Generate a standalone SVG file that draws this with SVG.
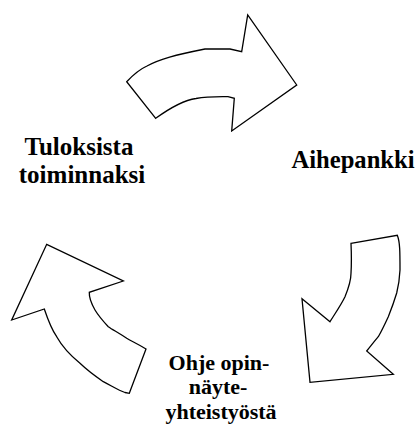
<svg xmlns="http://www.w3.org/2000/svg" width="418" height="436" viewBox="0 0 418 436">
<style>
.arr{fill:#fff;stroke:#000;stroke-width:1.3;stroke-linejoin:miter}
</style>
<rect width="418" height="436" fill="#fff"/>
<g id="connectors">
<path id="arrow-top" class="arr" d="M126.7,81.7 C133,75 138,70 147,66 C160,59 175,55 205,49 L230,49 L241.7,51.7 L247.7,15 L296.7,85 L231.7,131 L234.3,98.3 L228,96.7 C215,96.5 205,96.8 196,98.5 C185,100 170,108 155.7,118.3 Z"/>
<path id="arrow-right" class="arr" d="M351,243.3 L397.3,235.3 C400,242 400,252 400,270 C399.5,280 398,288 396.7,293 C394,302 391,310 388.3,316.7 C384,326 381,332 378.3,336.7 C373,343 370,347 366.7,351 L393.3,374.3 L310,382.3 L302,298.7 L330,321.7 C336,312 341,305 345,296.7 C349,287 351,280 351,273.3 C351.5,265 351.5,255 351,243.3 Z"/>
<path id="arrow-left" class="arr" d="M129.3,393.3 L146,349 C136,343 131,341 126.7,338.3 C119,333 113,330 108.3,326.7 C102,320 98,315 95,310 C91,303 89,298 89.3,292.3 L123.3,281 L46.7,244.3 L11.7,320 L44.3,309 C48,320 52,330 56.7,336.7 C63,348 70,355 80,363.3 C88,371 95,376 103.3,381.7 C112,386 118,390 125,392.5 Z"/>
</g>
<g id="node-tuloksista">
<text x="79" y="154.5" font-family="Liberation Serif" font-weight="bold" font-size="25" text-anchor="middle">Tuloksista</text>
<text x="82" y="183" font-family="Liberation Serif" font-weight="bold" font-size="25" text-anchor="middle">toiminnaksi</text>
</g>
<g id="node-aihepankki">
<text x="353" y="168" font-family="Liberation Serif" font-weight="bold" font-size="24.6" text-anchor="middle">Aihepankki</text>
</g>
<g id="node-ohje">
<text x="219" y="370" font-family="Liberation Serif" font-weight="bold" font-size="22" text-anchor="middle">Ohje opin-</text>
<text x="218" y="394" font-family="Liberation Serif" font-weight="bold" font-size="22" text-anchor="middle">näyte-</text>
<text x="221" y="418.5" font-family="Liberation Serif" font-weight="bold" font-size="22" text-anchor="middle">yhteistyöstä</text>
</g>
</svg>
